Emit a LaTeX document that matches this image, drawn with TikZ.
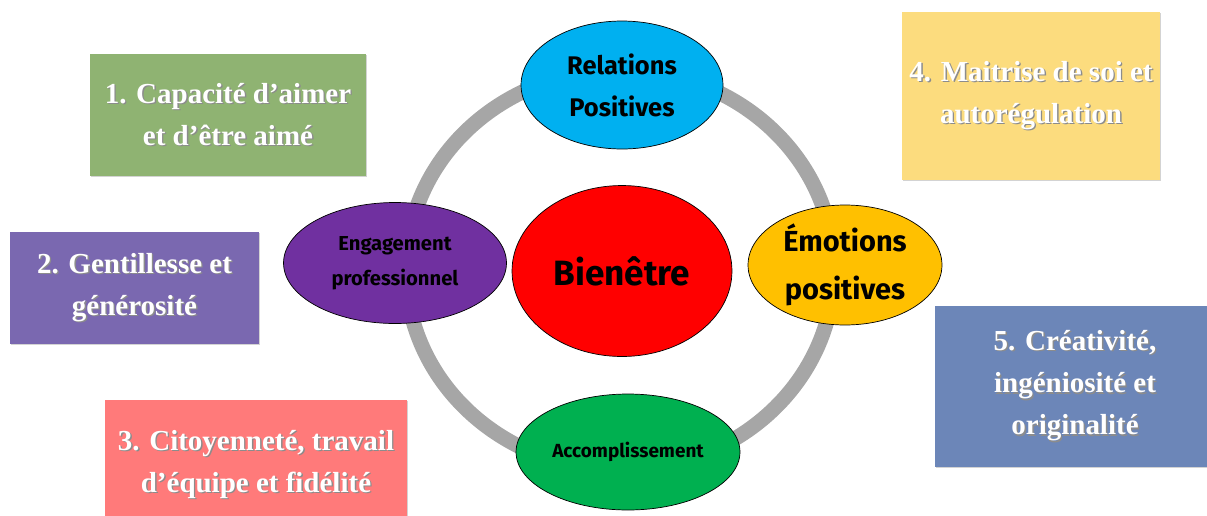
\documentclass[tikz,border=0pt]{standalone}
\usepackage{fontspec}
\setmainfont{Liberation Serif}
\newfontfamily\bulfont{Fira Sans}
\usetikzlibrary{shapes.geometric, shadows, positioning}

% texte blanc avec ombre grise
\newcommand{\ombre}[1]{\makebox[0pt][l]{\color{black!45}\hspace{0.8pt}\raisebox{-0.8pt}{#1}}#1}

\begin{document}
\begin{tikzpicture}[x=0.02cm, y=-0.02cm,
    carte/.style={rectangle, text=white, align=center, inner sep=0pt,
        font=\bfseries\fontsize{16.5}{24}\selectfont,
        drop shadow={opacity=0.35, shadow xshift=0.8pt, shadow yshift=-0.8pt}},
    bulle/.style={ellipse, draw=black, thin, text=black, align=center, inner sep=0pt}]
        % Couleurs
        \definecolor{vertcarte}{RGB}{143, 179, 114}
        \definecolor{violetcarte}{RGB}{122, 104, 176}
        \definecolor{rosecarte}{RGB}{255, 122, 122}
        \definecolor{jaunecarte}{RGB}{252, 220, 126}
        \definecolor{bleucarte}{RGB}{108, 134, 184}
        \definecolor{bleubulle}{RGB}{0, 176, 240}
        \definecolor{violetbulle}{RGB}{112, 48, 160}
        \definecolor{jaunebulle}{RGB}{255, 192, 0}
        \definecolor{vertbulle}{RGB}{0, 176, 80}
        \definecolor{anneau}{RGB}{166, 166, 166}

        \useasboundingbox (0,0) rectangle (1207,515);

        % 1. Les cinq cartes
        \node[carte, fill=vertcarte, minimum width=5.52cm, minimum height=2.44cm] (cap1) at (228,115)
            {\ombre{1. Capacité d’aimer}\\\ombre{et d’être aimé}};
        \node[carte, fill=violetcarte, minimum width=4.98cm, minimum height=2.24cm] (gen2) at (134.5,288)
            {\ombre{2. Gentillesse et}\\\ombre{générosité}};
        \node[carte, fill=rosecarte, minimum width=6.04cm, minimum height=2.6cm] (cit3) at (256,465)
            {\ombre{3. Citoyenneté, travail}\\\ombre{d’équipe et fidélité}};
        \node[carte, fill=jaunecarte, minimum width=5.16cm, minimum height=3.36cm] (mai4) at (1031,96)
            {\ombre{4. Maitrise de soi et}\\\ombre{autorégulation}};
        \node[carte, fill=bleucarte, minimum width=5.6cm, minimum height=3.22cm] (cre5) at (1075,386.5)
            {\ombre{5. Créativité,}\\\ombre{ingéniosité et}\\\ombre{originalité}};

        % 2. L'anneau gris
        \draw[anneau, line width=0.3cm] (620,270) ellipse [x radius=4.28cm, y radius=4cm];

        % 3. Les bulles
        \node[bulle, fill=red, minimum width=4.4cm, minimum height=3.42cm,
            font=\bulfont\bfseries\fontsize{20}{24}\selectfont] (bien) at (622,271) {Bienêtre};
        \node[bulle, fill=bleubulle, minimum width=4.04cm, minimum height=2.56cm,
            font=\bulfont\bfseries\fontsize{14.5}{24}\selectfont] (rel) at (622,85) {Relations\\Positives};
        \node[bulle, fill=violetbulle, minimum width=4.46cm, minimum height=2.42cm,
            font=\bulfont\bfseries\fontsize{11.5}{20}\selectfont] (eng) at (395,263) {Engagement\\professionnel};
        \node[bulle, fill=jaunebulle, minimum width=3.88cm, minimum height=2.4cm,
            font=\bulfont\bfseries\fontsize{16.5}{27}\selectfont] (emo) at (845,265) {Émotions\\positives};
        \node[bulle, fill=vertbulle, minimum width=4.48cm, minimum height=2.32cm,
            font=\bulfont\bfseries\fontsize{10.8}{13}\selectfont] (acc) at (628,452) {Accomplissement};

    \end{tikzpicture}
\end{document}
